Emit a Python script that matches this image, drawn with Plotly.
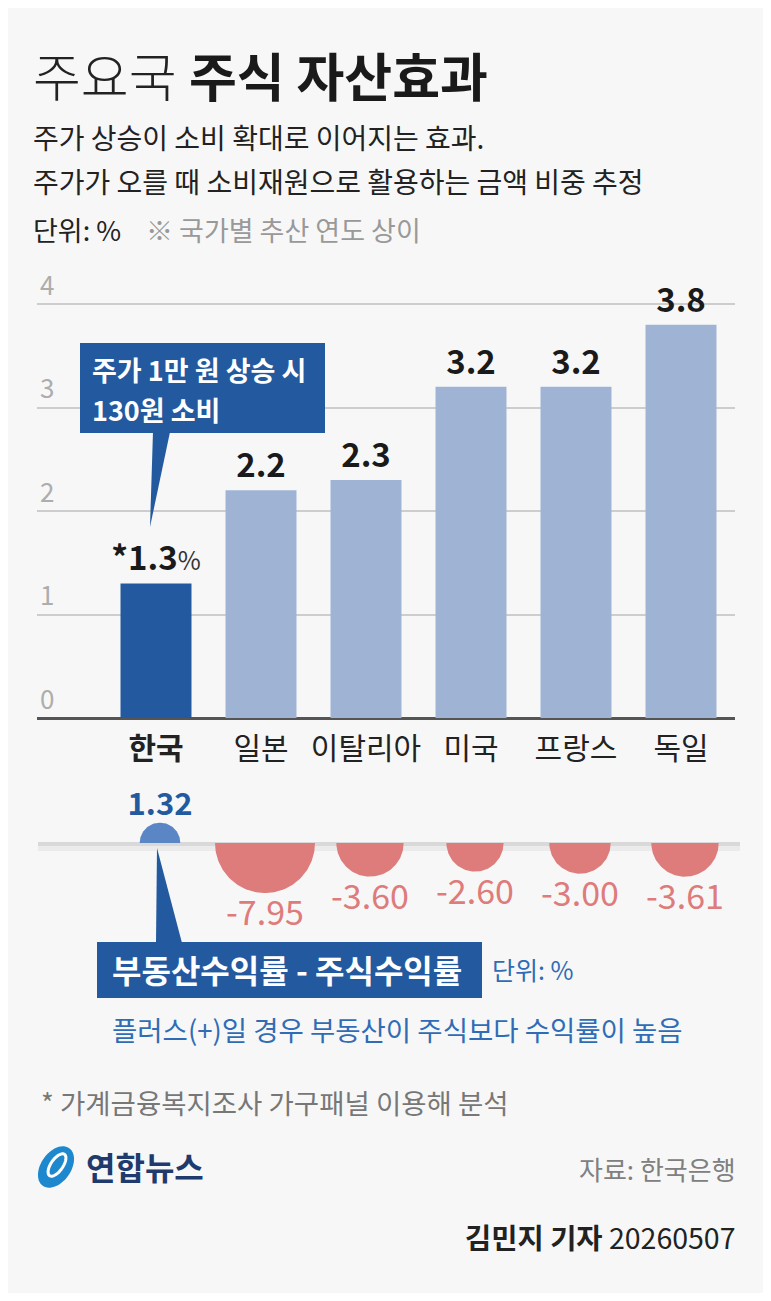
import numpy as np
import plotly.graph_objects as go

# ---------------- data ----------------
countries = ["한국", "일본", "이탈리아", "미국", "프랑스", "독일"]
wealth_effect = [1.3, 2.2, 2.3, 3.2, 3.2, 3.8]          # 단위: %
return_gap = [1.32, -7.95, -3.60, -2.60, -3.00, -3.61]  # 부동산수익률 - 주식수익률
y_ticks = [0, 1, 2, 3, 4]

# ---------------- geometry helpers ----------------
OFF = 8                      # page body margin
FIG_W, FIG_H = 755, 1285
def px(x):
    return (x - OFF) / FIG_W
def py(y):
    return 1 - (y - OFF) / FIG_H

FONT = "Noto Sans CJK KR"
BG = "#f7f7f7"
DARK_BLUE = "#235a9f"
LIGHT_BLUE = "#9fb4d5"
RED = "#de7b7b"
CIRCLE_BLUE = "#5b86c6"

X_LEFT, X_RIGHT = 37, 735
UNIT = 105.0   # px per category
C0 = 156       # px center of first category
x0 = -(C0 - X_LEFT) / UNIT
x_range = [x0, x0 + (X_RIGHT - X_LEFT) / UNIT]
x_dom = [px(X_LEFT), px(X_RIGHT)]
SHIFT2 = 4 / UNIT
x2_range = [x_range[0] - SHIFT2, x_range[1] - SHIFT2]

Y0_PX, Y_PER = 718, 103.5
y_top = 4.5
y_dom = [py(Y0_PX), py(Y0_PX - y_top * Y_PER)]

# bubble axis (equal px scale to x)
LINE_PX = 843
B_TOP, B_BOT = 770, 945
y2_range = [-(B_BOT - LINE_PX) / UNIT, (LINE_PX - B_TOP) / UNIT]
y2_dom = [py(B_BOT), py(B_TOP)]
LABEL_GAP = 7 / UNIT

fig = go.Figure()

# ---------------- bars ----------------
bar_colors = [DARK_BLUE if i == 0 else LIGHT_BLUE for i in range(len(countries))]
bar_text = []
for i, v in enumerate(wealth_effect):
    if i == 0:
        bar_text.append(f"<b>*{v:.1f}</b><span style='font-size:25px;font-weight:normal;color:#333'>%</span>")
    else:
        bar_text.append(f"<b>{v:.1f}</b>")

fig.add_trace(go.Bar(
    x=countries, y=wealth_effect,
    marker=dict(color=bar_colors, line=dict(width=0)),
    text=bar_text, textposition="outside", constraintext="none",
    outsidetextfont=dict(family=FONT, size=33, color="#1a1a1a"),
    cliponaxis=False, hoverinfo="skip", xaxis="x", yaxis="y",
))

# ---------------- half-circles ----------------
K = 17.73 / UNIT
t = np.linspace(0, np.pi, 80)
lab_x, lab_y, lab_t, lab_pos, lab_col = [], [], [], [], []
for i, v in enumerate(return_gap):
    r = K * np.sqrt(abs(v))
    sgn = 1 if v > 0 else -1
    col = CIRCLE_BLUE if v > 0 else RED
    fig.add_trace(go.Scatter(
        x=i + r * np.cos(t), y=sgn * r * np.sin(t),
        mode="lines", fill="toself", fillcolor=col,
        line=dict(width=0, color=col), hoverinfo="skip",
        xaxis="x2", yaxis="y2", showlegend=False,
    ))
    lab_x.append(i)
    lab_y.append(sgn * r if v > 0 else sgn * (r + LABEL_GAP))
    lab_t.append(f"<b>{v:.2f}</b>" if v > 0 else f"{v:.2f}")
    lab_pos.append("top center" if v > 0 else "bottom center")
    lab_col.append(DARK_BLUE if v > 0 else RED)

fig.add_trace(go.Scatter(
    x=lab_x, y=lab_y, text=lab_t, mode="text",
    textposition=lab_pos,
    textfont=dict(family=FONT, size=[31, 34, 34, 34, 34, 34], color=lab_col),
    hoverinfo="skip", xaxis="x2", yaxis="y2", showlegend=False, cliponaxis=False,
))

# ---------------- layout ----------------
ticktext = [f"<b>{c}</b>" if i == 0 else c for i, c in enumerate(countries)]
fig.update_layout(
    width=FIG_W, height=FIG_H, margin=dict(l=0, r=0, t=0, b=0),
    paper_bgcolor=BG, plot_bgcolor="rgba(0,0,0,0)",
    showlegend=False, bargap=0.324,
    font=dict(family=FONT, color="#222"),
    xaxis=dict(domain=x_dom, range=x_range, type="category",
               tickmode="array", tickvals=countries, ticktext=ticktext,
               tickfont=dict(family=FONT, size=30, color="#222"),
               ticks="", showline=False, showgrid=False, zeroline=False,
               ticklabelstandoff=10, fixedrange=True),
    yaxis=dict(domain=y_dom, range=[0, y_top], tickvals=y_ticks,
               ticktext=[str(v) for v in y_ticks],
               ticklabelposition="inside top",
               tickfont=dict(family=FONT, size=26, color="#adadad"),
               showgrid=True, gridcolor="#cdcdcd", gridwidth=1.5,
               zeroline=True, zerolinecolor="#555555", zerolinewidth=2.5,
               showline=False, ticks="", fixedrange=True),
    xaxis2=dict(domain=x_dom, range=x2_range, anchor="y2",
                visible=False, fixedrange=True),
    yaxis2=dict(domain=y2_dom, range=y2_range, anchor="x2",
                visible=False, fixedrange=True),
)

shapes = []
# base line of half-circle panel (with soft shadow)
shapes.append(dict(type="rect", xref="paper", yref="paper",
                   x0=px(38), x1=px(740), y0=py(851), y1=py(845),
                   fillcolor="#ebebeb", line=dict(width=0), layer="below"))
shapes.append(dict(type="rect", xref="paper", yref="paper",
                   x0=px(38), x1=px(740), y0=py(846), y1=py(842),
                   fillcolor="#d9d9d9", line=dict(width=0), layer="below"))

def path(points):
    s = "M " + " L ".join(f"{px(a):.5f},{py(b):.5f}" for a, b in points) + " Z"
    return s

# callout box (top)
shapes.append(dict(type="rect", xref="paper", yref="paper",
                   x0=px(80), x1=px(325), y0=py(433), y1=py(343),
                   fillcolor=DARK_BLUE, line=dict(width=0)))
shapes.append(dict(type="path", xref="paper", yref="paper",
                   path=path([(153, 432), (150, 527), (170, 432)]),
                   fillcolor=DARK_BLUE, line=dict(width=0)))
# box (bottom)
shapes.append(dict(type="rect", xref="paper", yref="paper",
                   x0=px(97), x1=px(482), y0=py(998), y1=py(942),
                   fillcolor=DARK_BLUE, line=dict(width=0)))
shapes.append(dict(type="path", xref="paper", yref="paper",
                   path=path([(157, 848), (156, 943), (182, 943)]),
                   fillcolor=DARK_BLUE, line=dict(width=0)))

# logo
tt = np.linspace(0, 2 * np.pi, 60)
ang = np.deg2rad(35)
def ellipse(cx, cy, a, b):
    xs = cx + a * np.cos(tt) * np.cos(ang) - b * np.sin(tt) * np.sin(ang)
    ys = cy + a * np.cos(tt) * np.sin(ang) + b * np.sin(tt) * np.cos(ang)
    return path(list(zip(xs, ys)))
shapes.append(dict(type="path", xref="paper", yref="paper",
                   path=ellipse(56, 1167, 15, 23), fillcolor="#1e88cf", line=dict(width=0)))
shapes.append(dict(type="path", xref="paper", yref="paper",
                   path=ellipse(57, 1165, 6, 13), fillcolor="rgba(0,0,0,0)",
                   line=dict(width=3, color="white")))
fig.update_layout(shapes=shapes)

ann = []
def text(x, y, s, size, color="#222", xanchor="left", weight="normal", family=FONT):
    ann.append(dict(x=px(x), y=py(y), xref="paper", yref="paper", text=s,
                    showarrow=False, xanchor=xanchor, yanchor="middle",
                    font=dict(family=family, size=size, color=color, weight=weight)))

text(31, 74, "주요국", 52, "#222", weight=300,
     family="Noto Sans CJK KR Light, Noto Sans CJK KR DemiLight, Noto Sans CJK KR")
text(187, 74, "<b>주식 자산효과</b>", 52, "#1a1a1a")
text(31, 137, "주가 상승이 소비 확대로 이어지는 효과.", 28, "#222")
text(31, 181, "주가가 오를 때 소비재원으로 활용하는 금액 비중 추정", 28, "#222")
text(31, 229, "단위: %", 27, "#222")
text(144, 229, "※ 국가별 추산 연도 상이", 27, "#999")

text(90, 369, "<b>주가 1만 원 상승 시</b>", 27, "white")
text(90, 409, "<b>130원 소비</b>", 27, "white")

text(110, 969, "<b>부동산수익률 - 주식수익률</b>", 32, "white")
text(490, 969, "단위: %", 25, "#2f6cb5")
text(110, 1029, "플러스(+)일 경우 부동산이 주식보다 수익률이 높음", 27.5, "#2f6cb5")

text(39, 1102, "* 가계금융복지조사 가구패널 이용해 분석", 27.5, "#777")
text(84, 1166, "<b>연합뉴스</b>", 32, "#1f3a6d")
text(738, 1168, "자료: 한국은행", 26, "#808080", xanchor="right")
text(738, 1236, "<b>김민지 기자</b> 20260507", 28.5, "#222", xanchor="right")

fig.update_layout(annotations=ann)

fig.write_html("out.html")
